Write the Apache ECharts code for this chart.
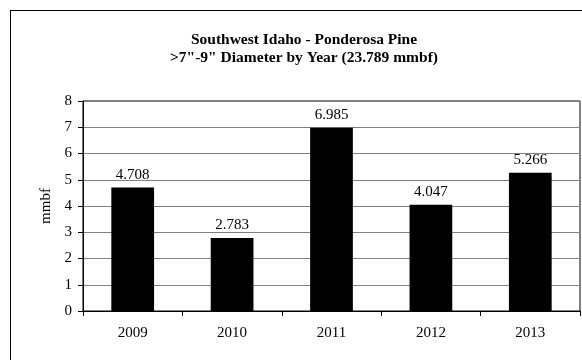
<!DOCTYPE html>
<html><head><meta charset="utf-8">
<script src="https://cdn.jsdelivr.net/npm/echarts@6/dist/echarts.min.js"></script>
<style>
html,body{margin:0;padding:0;background:#fff;overflow:hidden;}
#frame{position:absolute;left:10px;top:10px;width:620px;height:400px;border:1px solid #000;box-sizing:border-box;}
#c{position:absolute;left:0;top:0;width:582px;height:360px;}
</style></head>
<body>
<div id="frame"></div>
<div id="c"></div>
<script>
const titleLines = ['Southwest Idaho - Ponderosa Pine', '>7"-9" Diameter by Year (23.789 mmbf)'];
const years = ['2009', '2010', '2011', '2012', '2013'];
const volumes = [4.708, 2.783, 6.985, 4.047, 5.266];
const yAxisName = 'mmbf';

const font = 'Liberation Serif, Times New Roman, serif';
const chart = echarts.init(document.getElementById('c'), null, {renderer: 'canvas'});
chart.setOption({
  animation: false,
  backgroundColor: 'transparent',
  title: {
    text: titleLines.join('\n'),
    left: 299, top: 26, textAlign: 'center',
    textStyle: {fontFamily: font, fontWeight: 'bold', fontSize: 15.5, color: '#000', lineHeight: 18}
  },
  grid: {left: 83, right: 2, top: 101, bottom: 49, show: true, borderColor: '#000', borderWidth: 1, backgroundColor: 'transparent'},
  xAxis: {
    type: 'category', data: years,
    axisLine: {lineStyle: {color: '#000', width: 1}},
    axisTick: {show: true, alignWithLabel: false, length: 5, inside: false, lineStyle: {color: '#000'}},
    axisLabel: {fontFamily: font, fontSize: 15, color: '#000', margin: 15}
  },
  yAxis: {
    type: 'value', min: 0, max: 8, interval: 1,
    name: yAxisName, nameLocation: 'middle', nameGap: 27,
    nameTextStyle: {fontFamily: font, fontSize: 15, color: '#000'},
    axisLine: {show: true, lineStyle: {color: '#000', width: 1}},
    axisTick: {show: true, length: 5, lineStyle: {color: '#000'}},
    axisLabel: {fontFamily: font, fontSize: 15, color: '#000', margin: 11},
    splitLine: {show: true, lineStyle: {color: '#808080', width: 1}}
  },
  series: [{
    type: 'bar', data: volumes, barWidth: '43%',
    itemStyle: {color: '#000'},
    label: {show: true, position: 'top', distance: 5, fontFamily: font, fontSize: 15, color: '#000',
      formatter: p => p.value.toFixed(3)}
  }]
});
</script>
</body></html>
